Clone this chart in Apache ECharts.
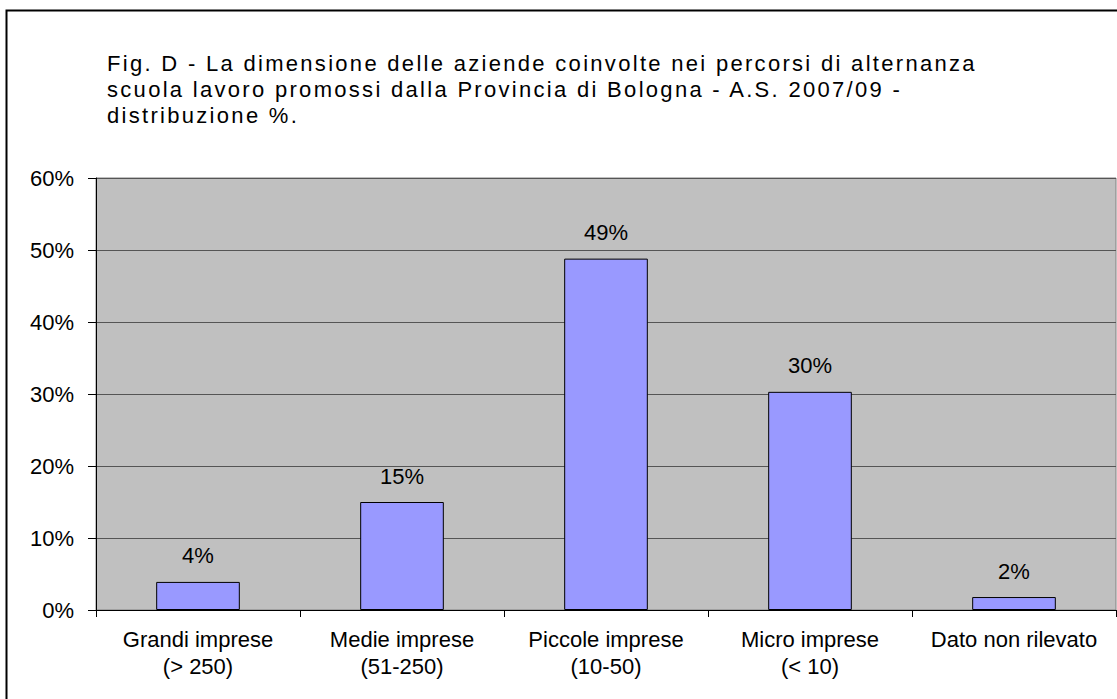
<!DOCTYPE html>
<html><head><meta charset="utf-8">
<script src="https://cdn.jsdelivr.net/npm/echarts@6/dist/echarts.min.js"></script>
<style>
html,body{margin:0;padding:0;background:#fff}
#c{width:1117px;height:699px}
#c text[style*="sans-serif"]{letter-spacing:2.3px}
</style>
</head><body><div id="c"></div>
<script>
const categories = ['Grandi imprese\n(> 250)', 'Medie imprese\n(51-250)', 'Piccole imprese\n(10-50)', 'Micro imprese\n(< 10)', 'Dato non rilevato'];
const values = [3.9, 15.0, 48.8, 30.3, 1.8];
const titleLines = ['Fig. D - La dimensione delle aziende coinvolte nei percorsi di alternanza', 'scuola lavoro promossi dalla Provincia di Bologna - A.S. 2007/09 -', 'distribuzione %.'];

const chart = echarts.init(document.getElementById('c'), null, { renderer: 'svg' });
chart.setOption({
  animation: false,
  backgroundColor: '#fff',
  title: {
    text: titleLines.join('\n'),
    left: 102, top: 45,
    textStyle: { fontFamily: "'Liberation Sans', sans-serif", fontSize: 22, fontWeight: 'normal', color: '#000', lineHeight: 26 }
  },
  graphic: [{
    type: 'rect', left: 4, top: 8, silent: true,
    shape: { width: 1130, height: 720 },
    style: { fill: 'none', stroke: '#000', lineWidth: 2 }
  }],
  grid: { left: 96, right: 1, top: 178, bottom: 89, show: true, backgroundColor: '#C0C0C0', borderColor: '#808080', borderWidth: 1 },
  xAxis: {
    type: 'category', data: categories, boundaryGap: true,
    axisLine: { show: true, lineStyle: { color: '#000', width: 1 } },
    axisTick: { show: true, alignWithLabel: false, length: 7, lineStyle: { color: '#000' } },
    axisLabel: { color: '#000', fontFamily: 'Liberation Sans', fontSize: 22, lineHeight: 27, margin: 16, interval: 0 }
  },
  yAxis: {
    type: 'value', min: 0, max: 60, interval: 10,
    axisLine: { show: true, lineStyle: { color: '#000', width: 1 } },
    axisTick: { show: true, length: 8, lineStyle: { color: '#000' } },
    axisLabel: { formatter: '{value}%', color: '#000', fontFamily: 'Liberation Sans', fontSize: 22, margin: 22 },
    splitLine: { show: true, lineStyle: { color: '#555', width: 1 } }
  },
  series: [{
    type: 'bar', data: values, barWidth: '41%',
    itemStyle: { color: '#9999FF', borderColor: '#000', borderWidth: 1 },
    label: { show: true, position: 'top', distance: 15, color: '#000', fontFamily: 'Liberation Sans', fontSize: 22,
      formatter: p => Math.round(p.value) + '%' }
  }]
});
</script></body></html>
